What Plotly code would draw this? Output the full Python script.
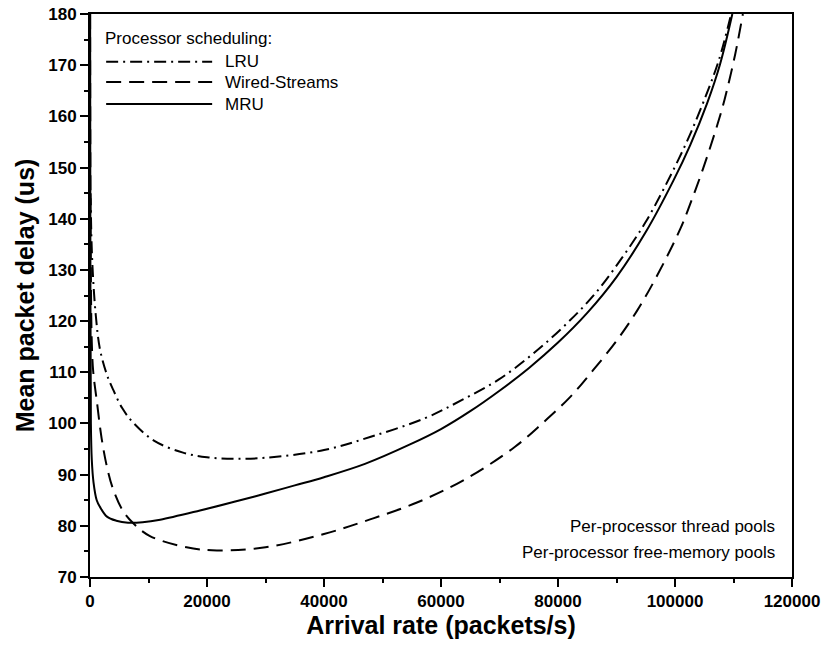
import plotly.graph_objects as go

# ---- data ----
lru_x = [100, 250, 500, 1000, 1700, 2900, 4000, 5500, 7350, 11000, 15900, 20000, 24500, 30000,
         40000, 48000, 57200, 63600, 69900, 75700, 81200, 86300, 90900, 94900, 98600,
         102200, 105200, 107500, 109600]
lru_y = [145, 136, 129, 121, 114.5, 109.5, 106.5, 103, 100.2, 96.6, 94.3, 93.4, 93.1, 93.3,
         94.8, 97.4, 101, 104.6, 108.6, 113.6, 119.2, 125.3, 132.3, 139.2, 147,
         155.5, 163.8, 171, 180]

ws_x = [20, 100, 300, 560, 1150, 2000, 3000, 4000, 5600, 7400, 10250, 16500, 21700,
        30000, 40000, 48000, 56000, 64000, 72600, 77400, 82100, 86000, 90100, 93500, 96900,
        100900, 102900, 104800, 107200, 108500, 110300, 111600]
ws_y = [180, 140, 116, 110, 104.5, 97, 91, 87, 83, 80.5, 78, 75.8, 75.2,
        75.8, 78.4, 81.3, 84.6, 89, 95.4, 100.1, 105.2, 110.4, 116.3, 122, 128.8,
        138.0, 143.8, 149.8, 158.2, 163.4, 172.2, 180]

mru_x = [20, 60, 150, 300, 600, 1150, 1700, 2900, 4500, 6500, 9000, 12000, 18800,
         25000, 30000, 35000, 40000, 47000, 54700, 60000, 65000, 70000, 75000, 80000, 85000, 90000,
         95000, 99700, 102600, 105500, 107700, 109800]
mru_y = [180, 140, 100, 93, 88.5, 85, 83.7, 81.8, 81, 80.6, 80.7, 81.2, 83,
         84.8, 86.3, 87.9, 89.5, 92.1, 95.9, 98.9, 102.4, 106.4, 110.8, 115.8, 121.6, 128.6,
         137.4, 147.4, 154.4, 162.6, 170.2, 180]

series_names = ["LRU", "Wired-Streams", "MRU"]
x_ticks = [0, 20000, 40000, 60000, 80000, 100000, 120000]
y_ticks = [70, 80, 90, 100, 110, 120, 130, 140, 150, 160, 170, 180]

FONT = "Liberation Sans, Arial, sans-serif"
dashes = ["12px,5px,2px,5px", "15px,8px", "solid"]

fig = go.Figure()
for name, xs, ys, d in zip(series_names, [lru_x, ws_x, mru_x], [lru_y, ws_y, mru_y], dashes):
    fig.add_trace(go.Scatter(x=xs, y=ys, mode="lines", name=name,
                             line=dict(color="black", width=2, dash=d, shape="spline", smoothing=1.0),
                             showlegend=False))

axis_common = dict(showline=True, linecolor="black", linewidth=2, mirror=True,
                   ticks="outside", ticklen=8, tickwidth=1.5, tickcolor="black",
                   showgrid=False, zeroline=False, automargin=False,
                   tickfont=dict(family=FONT, size=17, color="black", weight="bold"))

fig.update_xaxes(range=[0, 120000], tickvals=x_ticks, ticktext=[str(v) for v in x_ticks],
                 minor=dict(dtick=10000, ticks="outside", ticklen=4, tickcolor="black"),
                 title=dict(text="Arrival rate (packets/s)", standoff=6,
                            font=dict(family=FONT, size=25, color="black", weight="bold")),
                 **axis_common)
fig.update_yaxes(range=[70, 180], tickvals=y_ticks, ticktext=[str(v) for v in y_ticks],
                 minor=dict(dtick=5, ticks="outside", ticklen=4, tickcolor="black"),
                 title=dict(text="Mean packet delay (us)", standoff=6,
                            font=dict(family=FONT, size=25, color="black", weight="bold")),
                 **axis_common)

# legend drawn manually
leg_font = dict(family=FONT, size=17, color="black")
fig.add_annotation(xref="paper", yref="paper", x=0.019, y=0.957, text="Processor scheduling:",
                   showarrow=False, xanchor="left", yanchor="middle", font=leg_font)
leg_y = [0.915, 0.879, 0.840]
for name, d, ly in zip(series_names, dashes, leg_y):
    fig.add_shape(type="line", xref="paper", yref="paper", x0=0.023, x1=0.174, y0=ly, y1=ly,
                  line=dict(color="black", width=2, dash=d))
    fig.add_annotation(xref="paper", yref="paper", x=0.189, y=ly, text=name, showarrow=False,
                       xanchor="left", yanchor="middle", font=leg_font)

fig.add_annotation(xref="paper", yref="paper", x=0.979, y=0.089, text="Per-processor thread pools",
                   showarrow=False, xanchor="right", yanchor="middle", font=leg_font)
fig.add_annotation(xref="paper", yref="paper", x=0.979, y=0.044, text="Per-processor free-memory pools",
                   showarrow=False, xanchor="right", yanchor="middle", font=leg_font)

fig.update_layout(width=824, height=648, paper_bgcolor="white", plot_bgcolor="white",
                  margin=dict(l=90, r=32, t=14, b=71), showlegend=False)

fig.write_html("out.html")
